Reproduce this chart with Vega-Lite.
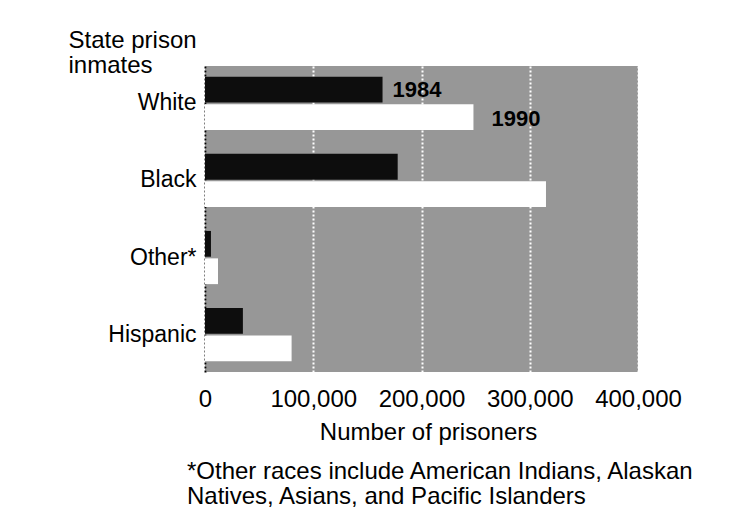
{
  "$schema": "https://vega.github.io/schema/vega-lite/v6.json",
  "width": 433,
  "height": 306,
  "autosize": {"type": "none"},
  "padding": {"left": 205, "top": 66, "right": 92, "bottom": 148},
  "background": "white",
  "config": {
    "font": "Liberation Sans",
    "view": {"fill": "#979797", "stroke": null}
  },
  "title": {
    "text": ["*Other races include American Indians, Alaskan", "Natives, Asians, and Pacific Islanders"],
    "orient": "bottom",
    "anchor": "start",
    "frame": "group",
    "dx": -18,
    "offset": 16,
    "fontSize": 24,
    "fontWeight": "normal",
    "lineHeight": 25,
    "color": "black"
  },
  "data": {
    "values": [
      {"race": "White", "year": "1984", "prisoners": 164000},
      {"race": "White", "year": "1990", "prisoners": 248000},
      {"race": "Black", "year": "1984", "prisoners": 178000},
      {"race": "Black", "year": "1990", "prisoners": 315000},
      {"race": "Other*", "year": "1984", "prisoners": 5500},
      {"race": "Other*", "year": "1990", "prisoners": 12000},
      {"race": "Hispanic", "year": "1984", "prisoners": 35000},
      {"race": "Hispanic", "year": "1990", "prisoners": 80000}
    ]
  },
  "encoding": {
    "y": {
      "field": "race",
      "type": "nominal",
      "sort": ["White", "Black", "Other*", "Hispanic"],
      "scale": {"paddingInner": 0.31, "paddingOuter": 0.14},
      "axis": {
        "title": ["State prison", "inmates"],
        "titleAngle": 0,
        "titleAlign": "left",
        "titleBaseline": "alphabetic",
        "titleX": -137,
        "titleY": -19,
        "titleFontSize": 24,
        "titleFontWeight": "normal",
        "titleLineHeight": 25,
        "titleColor": "black",
        "labelFontSize": 23,
        "labelColor": "black",
        "labelPadding": 9,
        "ticks": false,
        "domainColor": "black",
        "domainWidth": 2,
        "domainDash": [2, 2],
        "grid": false
      }
    },
    "yOffset": {"field": "year", "type": "nominal", "sort": ["1984", "1990"], "scale": {"paddingInner": 0.06}},
    "x": {
      "field": "prisoners",
      "type": "quantitative",
      "scale": {"domain": [0, 400000], "nice": false},
      "axis": {
        "title": "Number of prisoners",
        "titleFontSize": 24,
        "titleFontWeight": "normal",
        "titleColor": "black",
        "titlePadding": 9,
        "titleX": 223,
        "values": [0, 100000, 200000, 300000, 400000],
        "format": ",d",
        "labelFontSize": 24,
        "labelColor": "black",
        "labelPadding": 15,
        "labelOverlap": false,
        "labelFlush": false,
        "labelBound": false,
        "ticks": false,
        "domain": false,
        "grid": true,
        "gridColor": "white",
        "gridWidth": 2,
        "gridDash": [2, 2],
        "gridOpacity": 1
      }
    }
  },
  "layer": [
    {
      "mark": {"type": "bar", "stroke": null},
      "encoding": {
        "color": {
          "field": "year",
          "type": "nominal",
          "scale": {"domain": ["1984", "1990"], "range": ["#0d0d0d", "#ffffff"]},
          "legend": null
        }
      }
    },
    {
      "transform": [{"filter": "datum.race === 'White' && datum.year === '1984'"}],
      "mark": {"type": "text", "align": "left", "baseline": "middle", "dx": 10, "fontSize": 22, "fontWeight": "bold", "color": "black"},
      "encoding": {"text": {"field": "year"}}
    },
    {
      "transform": [{"filter": "datum.race === 'White' && datum.year === '1990'"}],
      "mark": {"type": "text", "align": "left", "baseline": "middle", "dx": 18, "dy": 2, "fontSize": 22, "fontWeight": "bold", "color": "black"},
      "encoding": {"text": {"field": "year"}}
    }
  ]
}
